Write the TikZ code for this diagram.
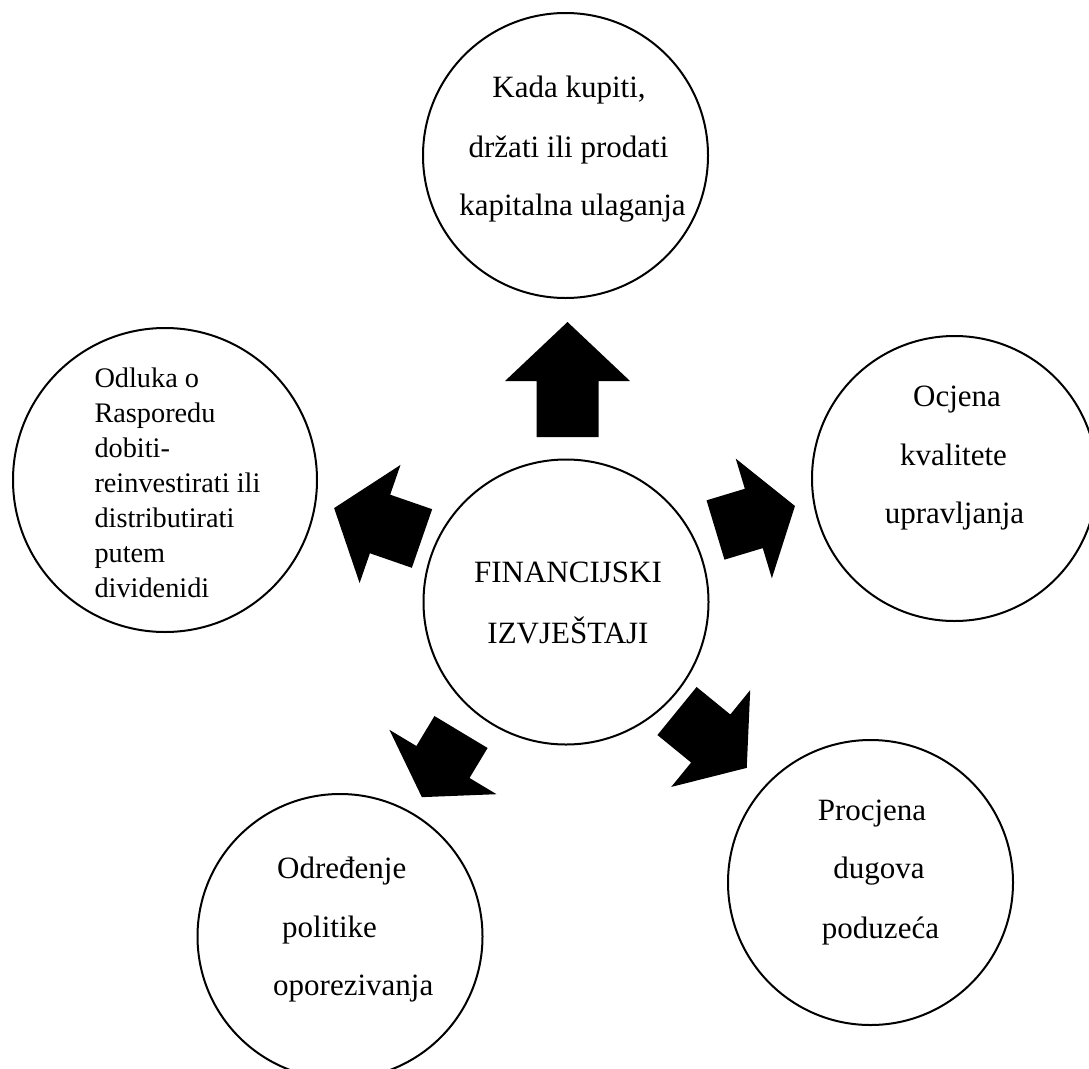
\documentclass[tikz,border=0pt]{standalone}
\usepackage{fontspec}
\setmainfont{Liberation Serif}
\begin{document}
\begin{tikzpicture}[x=1pt,y=-1pt,
  circ/.style={circle, draw=black, line width=2pt, minimum size=285pt, inner sep=0pt},
  lbl/.style={anchor=base, inner sep=0pt, font=\fontsize{31}{37}\selectfont},
  lblL/.style={anchor=base west, inner sep=0pt, font=\fontsize{28.3}{34}\selectfont},
  lblW/.style={anchor=base west, inner sep=0pt, font=\fontsize{31}{37}\selectfont},
  pics/blockarrow/.style args={#1/#2}{code={
    \fill[black] (0,-31) -- ({#1-#2},-31) -- ({#1-#2},-62.5) -- (#1,0)
      -- ({#1-#2},62.5) -- ({#1-#2},31) -- (0,31) -- cycle;}}
]
\useasboundingbox (0,0) rectangle (1089,1068);

% circles
\node[circ] (top) at (565.5,155.5) {};
\node[circ] (right) at (954.5,478.5) {};
\node[circ, minimum size=304pt] (left) at (165,480) {};
\node[circ] (center) at (566,602) {};
\node[circ] (bl) at (340,936.5) {};
\node[circ] (br) at (870.5,882.5) {};

% top text
\node[lbl] (t1) at (569,97) {Kada kupiti,};
\node[lbl] (t2) at (568.5,157) {držati ili prodati};
\node[lbl] (t3) at (572.5,215) {kapitalna ulaganja};

% right text
\node[lbl] (r1) at (957,406) {Ocjena};
\node[lbl] (r2) at (953.5,465) {kvalitete};
\node[lbl] (r3) at (954.5,523) {upravljanja};

% left text
\node[lblL] (l1) at (94.3,387) {Odluka o};
\node[lblL] (l2) at (94.3,422) {Rasporedu};
\node[lblL] (l3) at (94.3,457) {dobiti-};
\node[lblL] (l4) at (94.3,492) {reinvestirati ili};
\node[lblL] (l5) at (94.3,527) {distributirati};
\node[lblL] (l6) at (94.3,562) {putem};
\node[lblL] (l7) at (94.3,597) {dividenidi};

% center text
\node[lbl] (c1) at (568,582) {FINANCIJSKI};
\node[lbl] (c2) at (568,643) {IZVJEŠTAJI};

% bottom-left text
\node[lblW] (b1) at (277,878) {Određenje};
\node[lblW] (b2) at (282,937) {politike};
\node[lblW] (b3) at (273,995) {oporezivanja};

% bottom-right text
\node[lbl] (p1) at (872,820) {Procjena};
\node[lbl] (p2) at (879,878) {dugova};
\node[lbl] (p3) at (880.5,938) {poduzeća};

% block arrows (tail centre, direction)
\pic[rotate=90] (aTop) at (567.5,437) {blockarrow=115/59};
\pic[rotate=16.8] (aRight) at (715.5,530) {blockarrow=83/43};
\pic[rotate=160.9] (aLeft) at (422,538.5) {blockarrow=93/48.6};
\pic[rotate=239] (aBL) at (461,732) {blockarrow=76/41};
\pic[rotate=-39.2] (aBR) at (677,711) {blockarrow=90/46.5};
\end{tikzpicture}
\end{document}
